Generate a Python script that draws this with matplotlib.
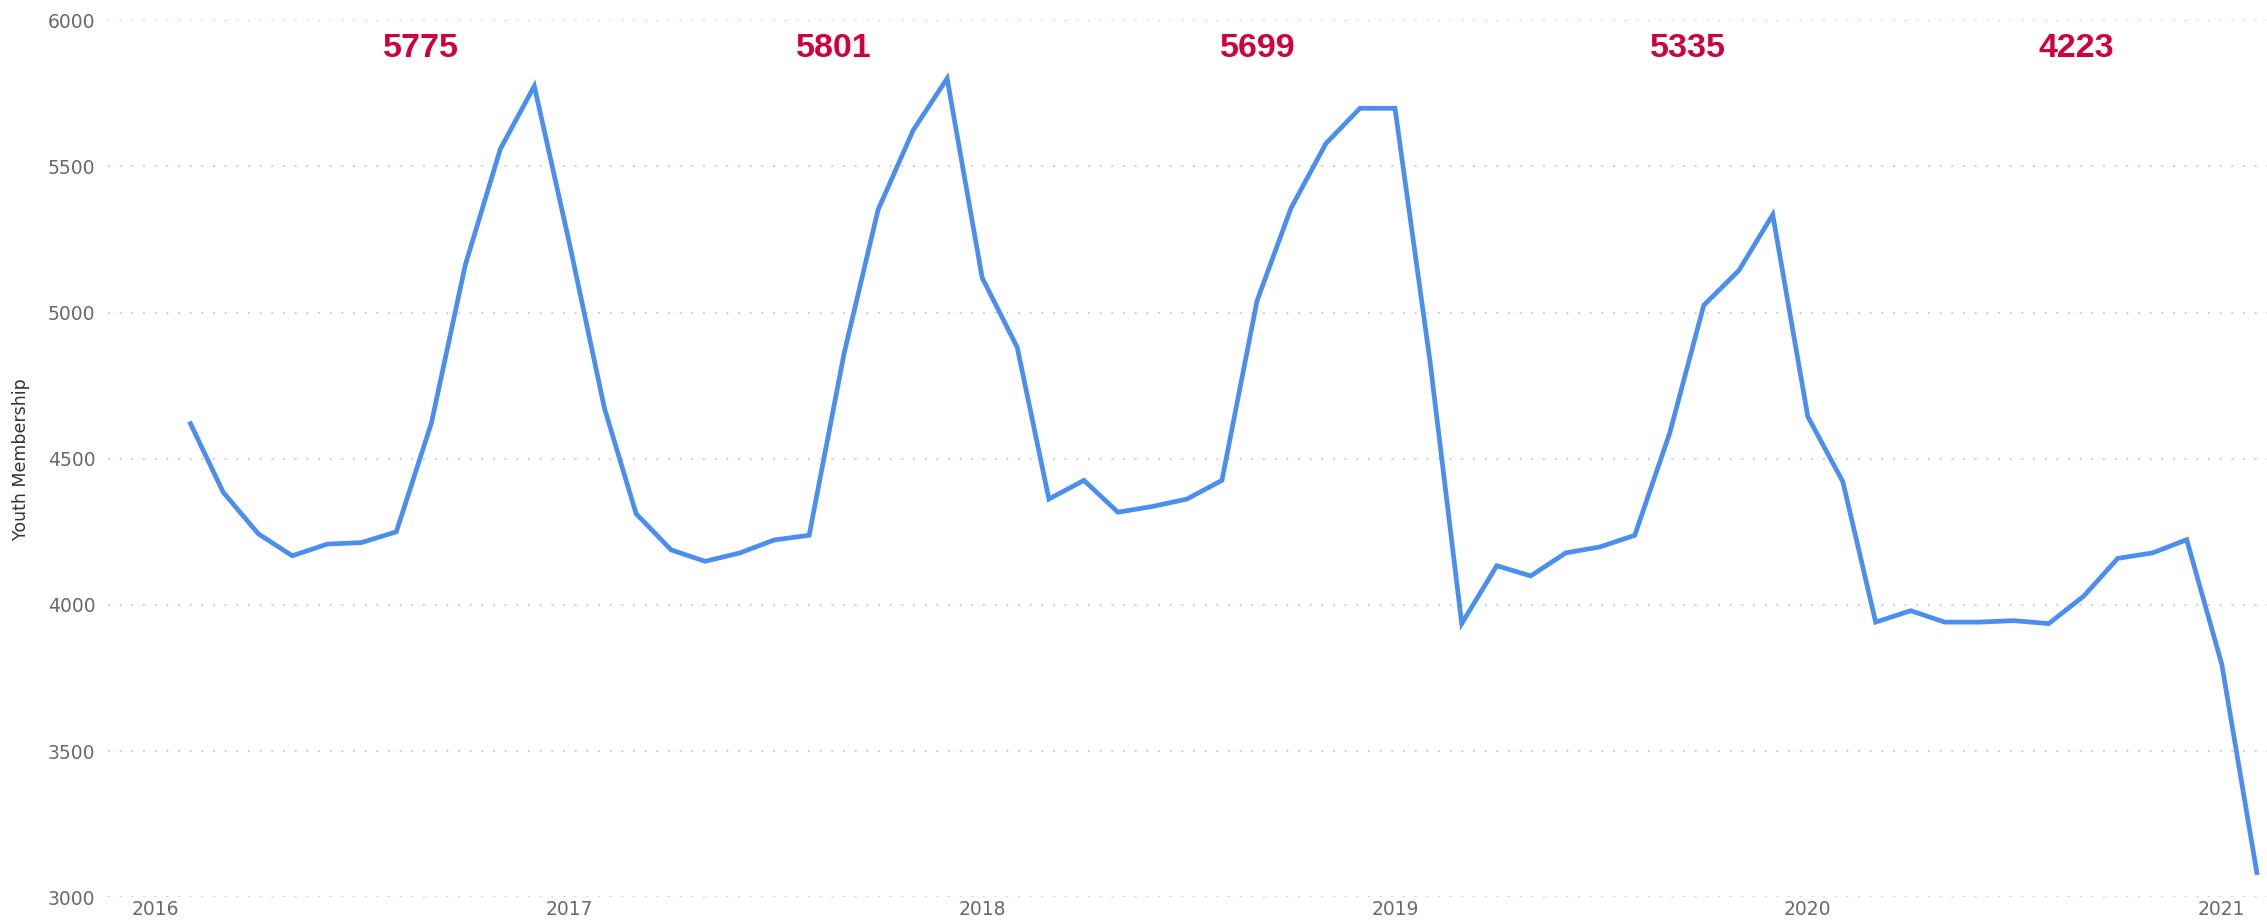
import matplotlib
matplotlib.use("Agg")
import matplotlib.pyplot as plt
import matplotlib.dates as mdates
import numpy as np
import pandas as pd

# monthly youth membership, Feb 2016 .. Feb 2021
months = pd.date_range("2016-02-01", "2021-02-01", freq="MS")
members = [
    4620, 4385, 4243, 4168, 4208, 4213, 4250, 4622, 5163, 5560, 5775,
    5238, 4673, 4312, 4188, 4149, 4178, 4222, 4238, 4862, 5352, 5624, 5801,
    5119, 4881, 4362, 4426, 4317, 4337, 4362, 4426, 5040, 5357, 5579, 5699,
    5699, 4832, 3936, 4134, 4099, 4178, 4198, 4238, 4589, 5025, 5144, 5335,
    4644, 4421, 3941, 3980, 3941, 3941, 3946, 3936, 4030, 4159, 4178, 4223,
    3797, 3084,
]

# yearly peak call-outs
peak_labels = ["5775", "5801", "5699", "5335", "4223"]
peak_label_dates = ["2016-08-23", "2017-08-23", "2018-09-02", "2019-09-17", "2020-08-25"]

y_ticks = [3000, 3500, 4000, 4500, 5000, 5500, 6000]
x_years = [2016, 2017, 2018, 2019, 2020, 2021]

fig = plt.figure(figsize=(22.67, 9.23), dpi=100)
ax = fig.add_axes([0.0476, 0.028, 0.9524, 0.950])

ax.plot(months, members, color="#4a8ef0", lw=3.4, solid_joinstyle="miter")

for d, lab in zip(peak_label_dates, peak_labels):
    ax.text(pd.Timestamp(d), 5905, lab, color="#d4003a", fontsize=24.5,
            fontweight="bold", family="Liberation Sans", ha="center", va="center")

ax.set_ylim(3000, 6000)
ax.set_xlim(pd.Timestamp("2015-11-20"), pd.Timestamp("2021-02-10"))
ax.set_yticks(y_ticks)
ax.set_xticks([pd.Timestamp(f"{y}-01-01") for y in x_years])
ax.xaxis.set_major_formatter(mdates.DateFormatter("%Y"))

ax.grid(axis="y", color="#d0d0d0", lw=1.4, linestyle=(0, (1, 5)))
ax.grid(axis="x", visible=False)
for s in ax.spines.values():
    s.set_visible(False)
ax.tick_params(length=0, labelsize=13.5, colors="#6a6a6a")
ax.tick_params(axis="y", pad=9)
ax.tick_params(axis="x", pad=2)

ax.set_ylabel("Youth Membership", fontsize=12.5, color="#333333", labelpad=13)

fig.savefig("out.png", dpi=100)
